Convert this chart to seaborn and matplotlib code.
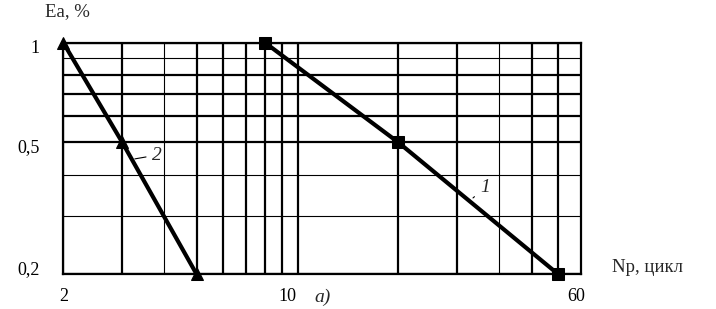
import pandas as pd
import matplotlib.pyplot as plt
import matplotlib.transforms as mtransforms
import seaborn as sns

# curve 1 (squares) and curve 2 (triangles)
n_curve1 = [8, 20, 60]
ea_curve1 = [1.0, 0.5, 0.2]
n_curve2 = [2, 3, 5]
ea_curve2 = [1.0, 0.5, 0.2]

# grid / tick layout of the log-log paper
x_ticks = [2, 3, 5, 6, 7, 8, 9, 10, 20, 30, 50, 60]
x_labels = ['2', '', '', '', '', '', '', '10', '', '', '', '60']
x_minor = [4, 40]
y_ticks = [0.2, 0.5, 0.6, 0.7, 0.8, 1.0]
y_labels = ['0,2', '0,5', '', '', '', '1']
y_minor = [0.3, 0.4, 0.9]

data = pd.DataFrame({
    'N': n_curve1 + n_curve2,
    'Ea': ea_curve1 + ea_curve2,
    'curve': ['1'] * len(n_curve1) + ['2'] * len(n_curve2),
})

sns.set_style('white')
plt.rcParams['font.family'] = ['Liberation Serif', 'DejaVu Serif']

W, H = 716, 309
fig = plt.figure(figsize=(W / 100, H / 100), dpi=100)
ax = fig.add_axes([63.3 / W, 1 - 274.3 / H, 517.4 / W, 231.6 / H])

sns.lineplot(data=data, x='N', y='Ea', hue='curve', style='curve',
             markers={'1': 's', '2': '^'}, dashes=False,
             palette={'1': 'black', '2': 'black'}, linewidth=3,
             markersize=9, markeredgecolor='black', legend=False,
             sort=False, ax=ax, clip_on=False, zorder=5)

ax.set_xscale('log')
ax.set_yscale('log')
ax.set_xlim(2, 70)
ax.set_ylim(0.2, 1.0)
ax.set_xticks(x_ticks, x_labels)
ax.set_xticks(x_minor, [''] * len(x_minor), minor=True)
ax.set_yticks(y_ticks, y_labels)
ax.set_yticks(y_minor, [''] * len(y_minor), minor=True)
ax.set_xlabel('')
ax.set_ylabel('')

ax.grid(which='major', color='black', linewidth=1.6)
ax.grid(which='minor', color='black', linewidth=0.8)
ax.tick_params(which='both', length=0, labelsize=13, colors='black')
ax.tick_params(axis='x', pad=10)
ax.tick_params(axis='y', pad=17)
for s in ax.spines.values():
    s.set_visible(True)
    s.set_color('black')
    s.set_linewidth(1.6)

# nudge labels the way they sit on the original
def shift(label, dx, dy):
    off = mtransforms.ScaledTranslation(dx / 100, -dy / 100, fig.dpi_scale_trans)
    label.set_transform(label.get_transform() + off)

xl = ax.get_xticklabels()
shift(xl[7], -10, 0)
shift(xl[11], 18, 0)
yl = ax.get_yticklabels()
shift(yl[0], 0, -7)
shift(yl[1], 0, 3)
shift(yl[5], 0, 4)

# curve labels with leader lines
ax.annotate('2', xy=(3.27, 0.446), xytext=(3.68, 0.458), fontsize=14,
            style='italic', va='center', ha='left',
            arrowprops=dict(arrowstyle='-', color='black', lw=0.8, shrinkB=0))
ax.annotate('1', xy=(33.4, 0.34), xytext=(35.0, 0.365), fontsize=14,
            style='italic', va='center', ha='left',
            arrowprops=dict(arrowstyle='-', color='black', lw=0.8, shrinkB=0))

fig.text(45 / W, 1 - 12 / H, 'Ea, %', fontsize=13.5, va='center', ha='left')
fig.text(612 / W, 1 - 268 / H, 'Np, цикл', fontsize=13.5, va='center', ha='left')
fig.text(323 / W, 1 - 297 / H, 'a)', fontsize=14, style='italic',
         va='center', ha='center')

fig.savefig('out.png', dpi=100)
